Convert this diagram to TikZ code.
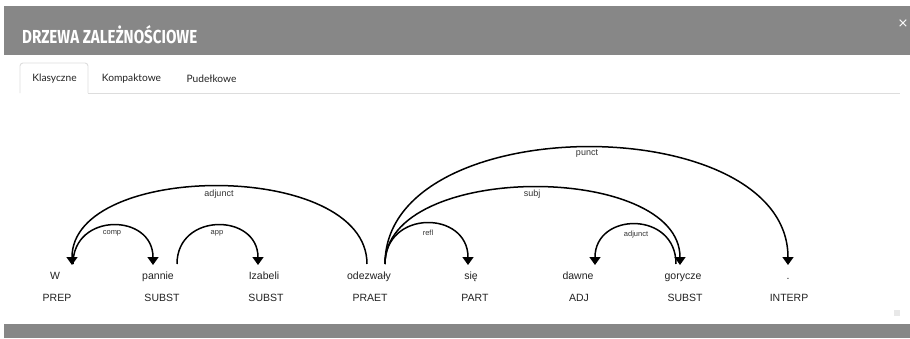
\documentclass[tikz,border=0pt]{standalone}
\usepackage{fontspec}
\usepackage{graphicx}
\setmainfont{Liberation Sans}
\newfontfamily\tabfont{Lato}
\newfontfamily\titlefont{Fira Sans}
\newfontfamily\symfont{DejaVu Sans}
\usetikzlibrary{arrows.meta}
\definecolor{barGray}{HTML}{878787}
\definecolor{tabGray}{HTML}{DDDDDD}
\definecolor{txt}{HTML}{222222}
\definecolor{lbl}{HTML}{333333}
\tikzset{
  bar/.style={fill=barGray, draw=none},
  tabedge/.style={draw=tabGray, line width=0.9pt},
  tablabel/.style={font=\tabfont\fontsize{10.2}{12}\selectfont, text=txt, inner sep=0},
  word/.style={font=\fontsize{10.5}{12}\selectfont, text=txt, anchor=base, inner sep=0},
  dep/.style={line width=1.5pt, black},
  deparrow/.style={dep, -{Triangle[length=8pt,width=11pt]}},
  deplabel/.style={font=\fontsize{9}{10}\selectfont, text=lbl, inner sep=0},
  smalllabel/.style={font=\fontsize{7.5}{9}\selectfont, text=lbl, inner sep=0},
}
\begin{document}
\begin{tikzpicture}[x=1pt,y=-1pt]
\useasboundingbox (0,0) rectangle (910,338);
\fill[white] (0,0) rectangle (910,338);

% header bar with title and close mark
\fill[bar] (4,6) rectangle (910,55);
\node[anchor=base west, text=white, inner sep=0] (title) at (22,43.3)
  {\resizebox{175pt}{18pt}{\titlefont\bfseries DRZEWA ZALEŻNOŚCIOWE}};
\node[text=white, inner sep=0, font=\symfont\fontsize{13}{13}\selectfont] (closeX) at (903,24) {×};

% tabs
\draw[tabedge] (88,93) -- (900,93);
\draw[tabedge, rounded corners=3pt] (20,93) -- (20,63) -- (88,63) -- (88,93);
\node[tablabel] (tabA) at (54.5,79) {Klasyczne};
\node[tablabel] (tabB) at (131.5,79) {Kompaktowe};
\node[tablabel] (tabC) at (211.5,79) {Pudełkowe};

% footer bar and resize handle
\fill[bar] (4,324) rectangle (910,338);
\fill[black!9] (894,310) rectangle (900,316);

% words and tags
\node[word] (w1) at (55,279.5) {W};
\node[word] (w2) at (158,279.5) {pannie};
\node[word] (w3) at (264,279.5) {Izabeli};
\node[word] (w4) at (369,279.5) {odezwały};
\node[word] (w5) at (471,279.5) {się};
\node[word] (w6) at (578,279.5) {dawne};
\node[word] (w7) at (683,279.5) {gorycze};
\node[word] (w8) at (788,279.5) {.};

\node[word] (t1) at (57,301) {PREP};
\node[word] (t2) at (162,301) {SUBST};
\node[word] (t3) at (266,301) {SUBST};
\node[word] (t4) at (370,301) {PRAET};
\node[word] (t5) at (475,301) {PART};
\node[word] (t6) at (579,301) {ADJ};
\node[word] (t7) at (685,301) {SUBST};
\node[word] (t8) at (789,301) {INTERP};

% arc end points above the words
\coordinate (inW)   at (72,265);
\coordinate (outW)  at (73,264);
\coordinate (inP)   at (153,265);
\coordinate (outP)  at (177,264);
\coordinate (inI)   at (258,265);
\coordinate (outOa) at (367,264);
\coordinate (outOb) at (385,264);
\coordinate (inS)   at (468,265);
\coordinate (inD)   at (595,265);
\coordinate (outG)  at (676,264);
\coordinate (inG)   at (680,265);
\coordinate (inDot) at (788,265);

% dependency arcs
\draw[deparrow] (outW)  .. controls +(0,-52)    and +(0,-52)    .. (inP);
\draw[deparrow] (outP)  .. controls +(0,-52)    and +(0,-52)    .. (inI);
\draw[deparrow] (outOa) .. controls +(0,-104)   and +(0,-104)   .. (inW);
\draw[deparrow] (outOb) .. controls +(0,-54.7)  and +(0,-54.7)  .. (inS);
\draw[deparrow] (outOb) .. controls +(0,-102.7) and +(0,-102.7) .. (inG);
\draw[deparrow] (outOb) .. controls +(0,-156)   and +(0,-156)   .. (inDot);
\draw[deparrow] (outG)  .. controls +(0,-53.3)  and +(0,-53.3)  .. (inD);

% arc labels
\node[smalllabel] (lcomp)  at (112,233) {comp};
\node[smalllabel] (lapp)   at (217,233) {app};
\node[deplabel]   (ladj)   at (219,194) {adjunct};
\node[smalllabel] (lrefl)  at (428,233) {refl};
\node[deplabel]   (lsubj)  at (532,194) {subj};
\node[deplabel]   (lpunct) at (587,154) {punct};
\node[smalllabel] (ladj2)  at (636,235) {adjunct};
\end{tikzpicture}
\end{document}
